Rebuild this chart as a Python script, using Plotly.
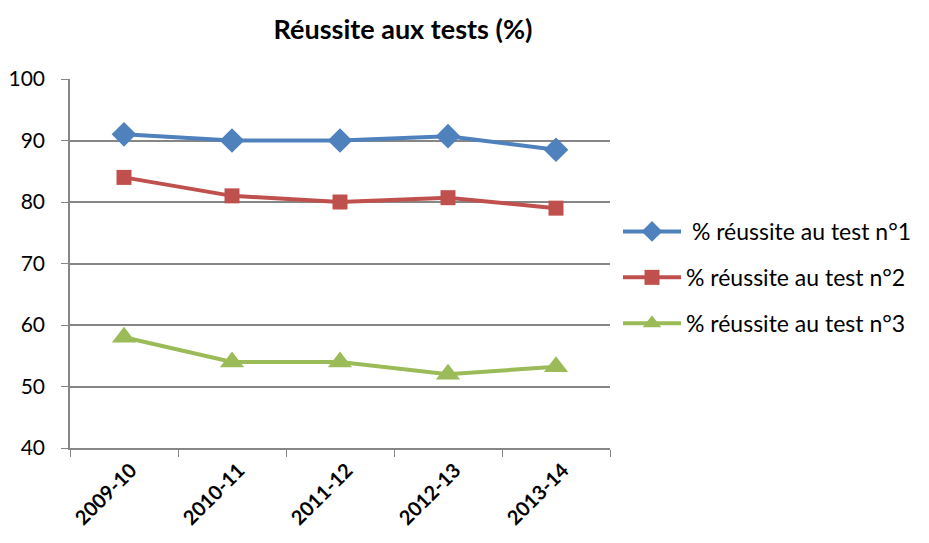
import plotly.graph_objects as go

categories = ["2009-10", "2010-11", "2011-12", "2012-13", "2013-14"]
test1 = [91, 90, 90, 90.7, 88.5]
test2 = [84, 81, 80, 80.7, 79]
test3 = [58, 54, 54, 52, 53.2]
names = [" % réussite au test n°1", "% réussite au test n°2", "% réussite au test n°3"]
colors = ["#4F81BD", "#C0504D", "#9BBB59"]
symbols = ["diamond", "square", "triangle-up"]
sizes = [19, 15, 21]

# page has an 8px body margin; figure is sized so it fits exactly
W, H = 913, 527
L, T, PW, PH = 62, 71, 540, 369

fig = go.Figure()
for i, vals in enumerate([test1, test2, test3]):
    fig.add_trace(go.Scatter(
        x=categories, y=vals, name=names[i], mode="lines+markers",
        line=dict(color=colors[i], width=4),
        marker=dict(symbol=symbols[i], size=sizes[i], color=colors[i]),
        legendgroup=f"g{i}",
    ))

fig.update_layout(
    width=W, height=H,
    margin=dict(l=L, r=W - L - PW, t=T, b=H - T - PH, autoexpand=False),
    paper_bgcolor="white", plot_bgcolor="white",
    font=dict(family="Lato, Carlito, sans-serif", size=21, color="black"),
    title=dict(text="<b>Réussite aux tests (%)</b>", x=395 / W, xanchor="center",
               y=1 - 22 / H, yanchor="middle", font=dict(size=27)),
    legend=dict(x=548 / PW, xanchor="left", y=(440 - 202) / PH, yanchor="top",
                tracegroupgap=13, font=dict(size=23), itemwidth=58),
    xaxis=dict(type="category", range=[-0.5, len(categories) - 0.5],
               showgrid=False, showline=True, linecolor="#868686", linewidth=1.5,
               ticks="outside", ticklen=7, tickcolor="#868686", tickson="boundaries",
               tickangle=-45, tickfont=dict(size=20), ticklabelstandoff=1,
               ticklabelshift=7, automargin=False),
    yaxis=dict(range=[40, 100], dtick=10, showgrid=True, gridcolor="#868686", gridwidth=1.5,
               showline=True, linecolor="#868686", linewidth=1.5, ticks="outside", ticklen=7,
               tickcolor="#868686", zeroline=False, tickfont=dict(size=21),
               ticklabelstandoff=12, automargin=False),
)

fig.update_xaxes(tickprefix="<b>", ticksuffix="</b>")

fig.write_html("out.html")
